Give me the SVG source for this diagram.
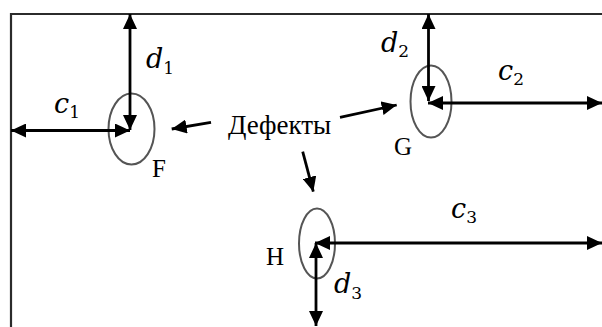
<svg xmlns="http://www.w3.org/2000/svg" width="602" height="327" viewBox="0 0 602 327">
<defs>
<marker id="ah" markerUnits="userSpaceOnUse" markerWidth="15" markerHeight="14" refX="15" refY="7" orient="auto-start-reverse" viewBox="0 0 15 14">
<path d="M0,0 L15,7 L0,14 z" fill="#000"/>
</marker>
</defs>
<style>
.frame{fill:none;stroke:#2b2b2b;stroke-width:2.2}
.ell{fill:none;stroke:#555;stroke-width:2}
.dim{fill:none;stroke:#000;stroke-width:2.8;marker-start:url(#ah);marker-end:url(#ah)}
.ptr{fill:none;stroke:#000;stroke-width:2.8;marker-end:url(#ah)}
.var{font-family:"DejaVu Serif",serif;font-style:italic;font-size:27px;fill:#000}
.sub{font-family:"DejaVu Serif",serif;font-style:normal;font-size:17px}
.lbl{font-family:"Liberation Serif",serif;font-size:25px;fill:#000}
.txt{font-family:"Liberation Serif",serif;font-size:27px;fill:#000}
</style>
<rect width="602" height="327" fill="#fff"/>
<path class="frame" d="M11,327 V14 H602"/>
<g id="F">
<ellipse class="ell" cx="131.5" cy="129" rx="23" ry="35.5"/>
<text class="lbl" x="152" y="177">F</text>
</g>
<g id="G">
<ellipse class="ell" cx="431" cy="101.5" rx="20.5" ry="36"/>
<text class="lbl" x="394" y="155">G</text>
</g>
<g id="H">
<ellipse class="ell" cx="317" cy="243.5" rx="18" ry="35"/>
<text class="lbl" x="266" y="265">H</text>
</g>
<g id="defects">
<text class="txt" x="228" y="134">Дефекты</text>
</g>
<g id="connectors">
<line class="dim" x1="130" y1="14" x2="130" y2="130"/>
<line class="dim" x1="11" y1="130.5" x2="130" y2="130.5"/>
<line class="dim" x1="428.5" y1="14" x2="428.5" y2="101"/>
<line class="dim" x1="428" y1="103" x2="602" y2="103"/>
<line class="dim" x1="315" y1="243" x2="602" y2="243"/>
<line class="dim" x1="316" y1="243" x2="316" y2="326"/>
<line class="ptr" x1="211" y1="122.3" x2="171.7" y2="129"/>
<line class="ptr" x1="340" y1="117.3" x2="396.7" y2="105"/>
<line class="ptr" x1="302.7" y1="151.7" x2="313.3" y2="191.7"/>
</g>
<g id="labels">
<text class="var" x="146" y="68">d<tspan class="sub" dy="6">1</tspan></text>
<text class="var" x="54" y="113">c<tspan class="sub" dy="5">1</tspan></text>
<text class="var" x="381" y="52">d<tspan class="sub" dy="5">2</tspan></text>
<text class="var" x="498" y="80">c<tspan class="sub" dy="5">2</tspan></text>
<text class="var" x="451" y="218">c<tspan class="sub" dy="5">3</tspan></text>
<text class="var" x="334" y="293">d<tspan class="sub" dy="6">3</tspan></text>
</g>
</svg>
